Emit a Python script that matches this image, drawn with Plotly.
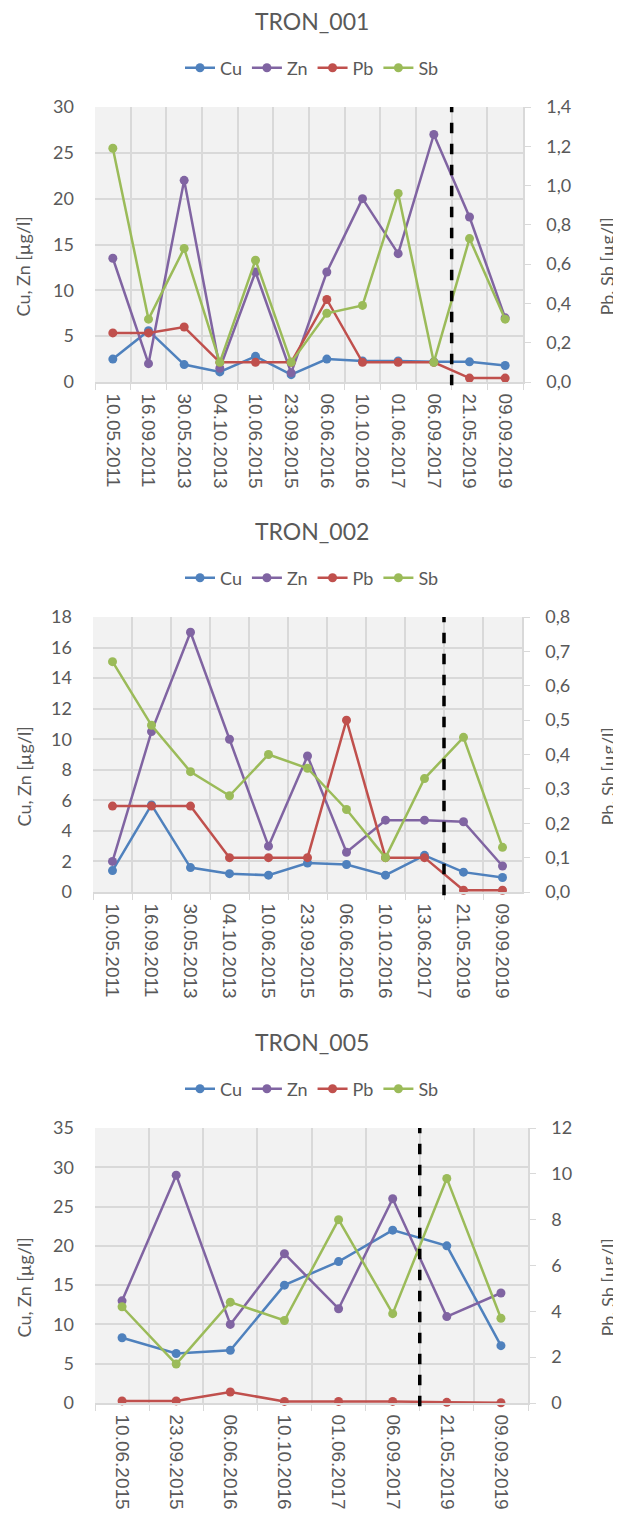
import plotly.graph_objects as go

# ---------------- data ----------------
dates_001 = ["10.05.2011", "16.09.2011", "30.05.2013", "04.10.2013", "10.06.2015", "23.09.2015",
             "06.06.2016", "10.10.2016", "01.06.2017", "06.09.2017", "21.05.2019", "09.09.2019"]
cu_001 = [2.5, 5.6, 1.9, 1.1, 2.8, 0.8, 2.5, 2.3, 2.3, 2.2, 2.2, 1.8]
zn_001 = [13.5, 2.0, 22.0, 1.5, 12.0, 1.0, 12.0, 20.0, 14.0, 27.0, 18.0, 7.0]
pb_001 = [0.25, 0.25, 0.28, 0.10, 0.10, 0.10, 0.42, 0.10, 0.10, 0.10, 0.02, 0.02]
sb_001 = [1.19, 0.32, 0.68, 0.10, 0.62, 0.10, 0.35, 0.39, 0.96, 0.10, 0.73, 0.32]
break_001 = "06.09.2017"

dates_002 = ["10.05.2011", "16.09.2011", "30.05.2013", "04.10.2013", "10.06.2015", "23.09.2015",
             "06.06.2016", "10.10.2016", "13.06.2017", "21.05.2019", "09.09.2019"]
cu_002 = [1.4, 5.7, 1.6, 1.2, 1.1, 1.9, 1.8, 1.1, 2.4, 1.3, 0.95]
zn_002 = [2.0, 10.5, 17.0, 10.0, 3.0, 8.9, 2.6, 4.7, 4.7, 4.6, 1.7]
pb_002 = [0.25, 0.25, 0.25, 0.10, 0.10, 0.10, 0.50, 0.10, 0.10, 0.005, 0.005]
sb_002 = [0.67, 0.485, 0.35, 0.28, 0.40, 0.36, 0.24, 0.10, 0.33, 0.45, 0.13]
break_002 = "13.06.2017"

dates_005 = ["10.06.2015", "23.09.2015", "06.06.2016", "10.10.2016", "01.06.2017", "06.09.2017",
             "21.05.2019", "09.09.2019"]
cu_005 = [8.3, 6.3, 6.7, 15.0, 18.0, 22.0, 20.0, 7.3]
zn_005 = [13.0, 29.0, 10.0, 19.0, 12.0, 26.0, 11.0, 14.0]
pb_005 = [0.09, 0.09, 0.48, 0.07, 0.07, 0.07, 0.03, 0.01]
sb_005 = [4.2, 1.7, 4.4, 3.6, 8.0, 3.9, 9.8, 3.7]
break_005 = "06.09.2017"

titles = ["TRON_001", "TRON_002", "TRON_005"]
series_names = ["Cu", "Zn", "Pb", "Sb"]
left_title = "Cu, Zn [µg/l]"
right_title = "Pb, Sb [µg/l]"

# ---------------- style ----------------
PAGE_W, PAGE_H = 621, 1519
OFF = 8                      # default body margin of the html page
W, H = PAGE_W - OFF, PAGE_H - OFF
COLORS = {"Cu": "#4F81BD", "Zn": "#8064A2", "Pb": "#C0504D", "Sb": "#9BBB59"}
TXT = "#595959"
GRID = "#D9D9D9"
FONT = "Lato"
XFONT = "Liberation Sans"


def fx(p):  # page pixel x -> paper fraction
    return (p - OFF) / W


def fy(p):  # page pixel y (from top) -> paper fraction
    return 1 - (p - OFF) / H


charts = [
    dict(dates=dates_001, data=[cu_001, zn_001, pb_001, sb_001], brk=break_001,
         px=(95, 523), py=(107, 382), lrange=(0, 30), ldt=5, rrange=(0, 1.4), rdt=0.2, rfmt=".1f"),
    dict(dates=dates_002, data=[cu_002, zn_002, pb_002, sb_002], brk=break_002,
         px=(93, 522), py=(617, 892), lrange=(0, 18), ldt=2, rrange=(0, 0.8), rdt=0.1, rfmt=".1f"),
    dict(dates=dates_005, data=[cu_005, zn_005, pb_005, sb_005], brk=break_005,
         px=(95, 528), py=(1128, 1403), lrange=(0, 35), ldt=5, rrange=(0, 12), rdt=2, rfmt="d"),
]

fig = go.Figure()
layout = dict(
    width=W, height=H, margin=dict(l=0, r=0, t=0, b=0, autoexpand=False),
    paper_bgcolor="white", plot_bgcolor="#F2F2F2",
    separators=", ", showlegend=True,
    font=dict(family=FONT, color=TXT, size=18),
    annotations=[], shapes=[],
)

for i, c in enumerate(charts):
    xa = "x" if i == 0 else f"x{i+1}"
    ly = 2 * i + 1
    ry = 2 * i + 2
    lya = "y" if ly == 1 else f"y{ly}"
    rya = f"y{ry}"
    leg = "legend" if i == 0 else f"legend{i+1}"
    dom_x = [fx(c["px"][0]), fx(c["px"][1])]
    dom_y = [fy(c["py"][1]), fy(c["py"][0])]

    for k, name in enumerate(series_names):
        on_right = name in ("Pb", "Sb")
        fig.add_trace(go.Scatter(
            x=c["dates"], y=c["data"][k], name=name, mode="lines+markers",
            line=dict(color=COLORS[name], width=2.5),
            marker=dict(color=COLORS[name], size=9),
            xaxis=xa, yaxis=rya if on_right else lya, legend=leg, cliponaxis=False,
        ))

    n = len(c["dates"])
    xkey = "xaxis" if i == 0 else f"xaxis{i+1}"
    layout[xkey] = dict(
        domain=dom_x, anchor=lya, type="category", range=[-0.5, n - 0.5],
        tickson="boundaries", ticks="outside", ticklen=6, tickcolor=GRID,
        showgrid=True, gridcolor=GRID, gridwidth=1.5,
        showline=True, linecolor=GRID, linewidth=1.5, mirror=False,
        tickangle=90, tickfont=dict(family=XFONT, size=19, color=TXT),
        ticklabelstandoff=6, automargin=False,
    )
    lkey = "yaxis" if ly == 1 else f"yaxis{ly}"
    layout[lkey] = dict(
        domain=dom_y, anchor=xa, range=list(c["lrange"]), dtick=c["ldt"], tick0=0,
        showgrid=True, gridcolor=GRID, gridwidth=1.5, zeroline=False,
        showline=False, ticks="", tickfont=dict(size=18, color=TXT),
        ticklabelstandoff=20, automargin=False,
    )
    layout[f"yaxis{ry}"] = dict(
        domain=dom_y, anchor=xa, overlaying=lya, side="right",
        range=list(c["rrange"]), dtick=c["rdt"], tick0=0, tickformat=c["rfmt"],
        showgrid=False, zeroline=False, showline=True, linecolor=GRID, linewidth=1.5,
        ticks="outside", ticklen=6, tickcolor=GRID, tickfont=dict(size=18, color=TXT),
        ticklabelstandoff=12, automargin=False,
    )
    layout[leg] = dict(
        orientation="h", x=fx(312), xanchor="center", y=fy(c["py"][0] - 39), yanchor="middle",
        font=dict(size=18, color=TXT), itemwidth=30, bgcolor="rgba(0,0,0,0)",
        tracegroupgap=0,
    )
    # chart title
    layout["annotations"].append(dict(
        text=titles[i], x=fx(312), xref="paper", xanchor="center",
        y=fy(c["py"][0] - 86), yref="paper", yanchor="middle",
        showarrow=False, font=dict(size=23, color=TXT),
    ))
    mid = fy((c["py"][0] + c["py"][1]) / 2 + 22)
    layout["annotations"].append(dict(
        text=left_title, x=fx(23), xref="paper", xanchor="center",
        y=mid, yref="paper", yanchor="middle", textangle=-90,
        showarrow=False, font=dict(size=18, color=TXT),
    ))
    layout["annotations"].append(dict(
        text=right_title, x=fx(607), xref="paper", xanchor="center",
        y=mid, yref="paper", yanchor="middle", textangle=-90,
        showarrow=False, font=dict(size=18, color=TXT),
    ))
    # dashed separator between the last sampling before and after the break
    bx = c["dates"].index(c["brk"]) + 0.5
    layout["shapes"].append(dict(
        type="line", xref=xa, yref=f"{lya} domain", x0=bx, x1=bx, y0=-0.012, y1=1,
        line=dict(color="black", width=3.5, dash="dash"), layer="above",
    ))

fig.update_layout(**layout)
fig.write_html("out.html")
